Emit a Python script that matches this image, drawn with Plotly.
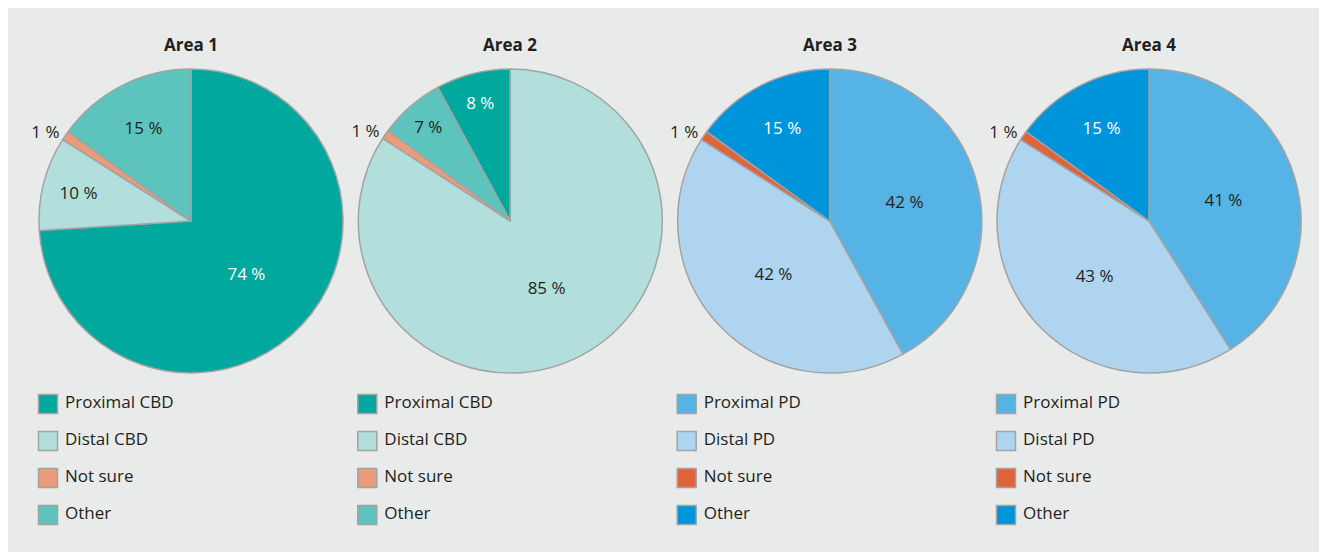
import plotly.graph_objects as go

# ---------------- data ----------------
areas = ["Area 1", "Area 2", "Area 3", "Area 4"]
labels_cbd = ["Proximal CBD", "Distal CBD", "Not sure", "Other"]
labels_pd = ["Proximal PD", "Distal PD", "Not sure", "Other"]
area1_values = [74, 10, 1, 15]
area2_values = [8, 85, 1, 7]
area3_values = [42, 42, 1, 15]
area4_values = [41, 43, 1, 15]

colors_cbd = ["#00a89d", "#b2dfdc", "#e99b7a", "#5cc4bd"]
colors_pd = ["#55b3e6", "#aed4f0", "#e0643b", "#0095da"]
# label text colour inside each slice (white on dark slices)
textcol_cbd = ["#ffffff", "#231f20", "#231f20", "#231f20"]
textcol_pd = ["#231f20", "#231f20", "#231f20", "#ffffff"]

# which slice starts at 12 o'clock (clockwise)
start_slice = [0, 1, 0, 0]

# ---------------- layout constants ----------------
# page body has an 8px margin, so the figure sits at (8, 8) in the window
OX, OY = 8, 8
W, H = 1318, 544
FONT = "Open Sans"
DARK = "#231f20"
EDGE = "#a3a3a3"
BG = "#e9ebea"
centers_x = [191 - OX, 510.3 - OX, 829.7 - OX, 1149 - OX]
CY, R = 221 - OY, 152

series = [
    (area1_values, labels_cbd, colors_cbd, textcol_cbd),
    (area2_values, labels_cbd, colors_cbd, textcol_cbd),
    (area3_values, labels_pd, colors_pd, textcol_pd),
    (area4_values, labels_pd, colors_pd, textcol_pd),
]

fig = go.Figure()
annotations = []

for i, (vals, labs, cols, tcols) in enumerate(series):
    cx = centers_x[i]
    total = sum(vals)
    rot = -sum(vals[:start_slice[i]]) / total * 360
    fig.add_trace(go.Pie(
        values=vals,
        labels=labs,
        text=[f"{v} %" for v in vals],
        textinfo="text",
        textposition=["inside" if v >= 5 else "outside" for v in vals],
        insidetextorientation="horizontal",
        insidetextfont=dict(family=FONT, size=17, color=tcols),
        outsidetextfont=dict(family=FONT, size=17, color=DARK),
        marker=dict(colors=cols, line=dict(color=EDGE, width=1.5)),
        sort=False,
        direction="clockwise",
        rotation=rot,
        domain=dict(x=[(cx - R) / W, (cx + R) / W],
                    y=[(H - (CY + R)) / H, (H - (CY - R)) / H]),
        showlegend=False,
        hoverinfo="skip",
    ))

    # title
    annotations.append(dict(
        text=f"<b>{areas[i]}</b>", x=cx / W, y=(H - (45 - OY)) / H,
        xref="paper", yref="paper", showarrow=False,
        xanchor="center", yanchor="middle",
        font=dict(family=FONT, size=17, color=DARK),
    ))

    # legend drawn as a small categorical scatter below each pie
    ax = i + 2
    xa, ya = f"x{ax}", f"y{ax}"
    fig.add_trace(go.Scatter(
        x=[0] * len(labs), y=labs, mode="markers",
        marker=dict(symbol="square", size=19, color=cols,
                    line=dict(color=EDGE, width=1.5)),
        xaxis=xa, yaxis=ya, showlegend=False, hoverinfo="skip",
        cliponaxis=False,
    ))
    fig.add_trace(go.Scatter(
        x=[0.85] * len(labs), y=labs, mode="text", text=labs,
        textposition="middle right",
        textfont=dict(family=FONT, size=17, color=DARK),
        xaxis=xa, yaxis=ya, showlegend=False, hoverinfo="skip",
        cliponaxis=False,
    ))
    left = cx - 153
    top, bottom = 385.5 - OY, 533.5 - OY
    fig.update_layout({
        f"xaxis{ax}": dict(domain=[left / W, (left + 300) / W], range=[-0.5, 14.5],
                           visible=False, fixedrange=True),
        f"yaxis{ax}": dict(domain=[(H - bottom) / H, (H - top) / H],
                           range=[3.5, -0.5], type="category",
                           categoryorder="array", categoryarray=labs,
                           visible=False, fixedrange=True),
    })

fig.update_layout(
    width=W, height=H,
    margin=dict(l=0, r=0, t=0, b=0),
    paper_bgcolor=BG,
    plot_bgcolor="rgba(0,0,0,0)",
    font=dict(family=FONT, color=DARK),
    annotations=annotations,
)

fig.write_html("out.html")
